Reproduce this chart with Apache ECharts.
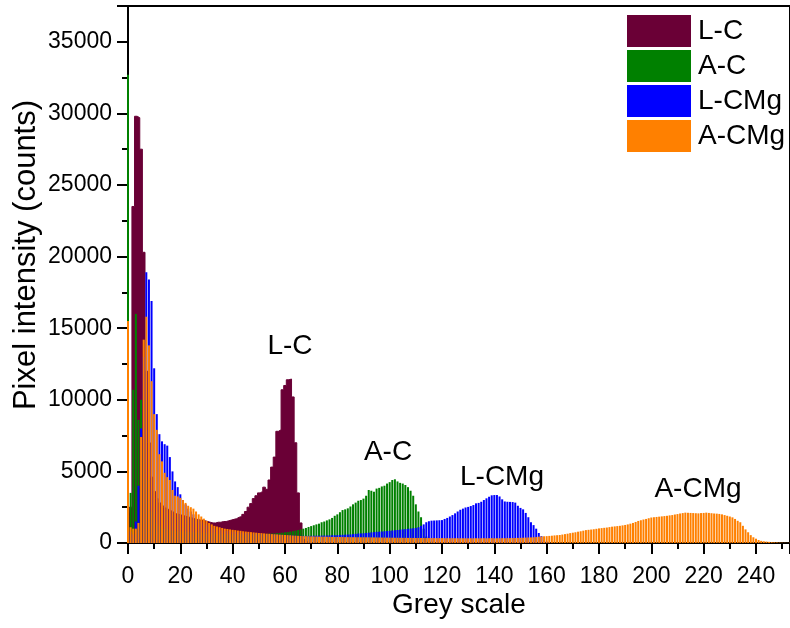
<!DOCTYPE html>
<html>
<head>
<meta charset="utf-8">
<title>Grey scale histogram</title>
<script src="https://cdn.jsdelivr.net/npm/echarts@6/dist/echarts.min.js"></script>
<style>html,body{margin:0;padding:0;background:#fff;}</style>
</head>
<body>
<div id="main" style="width:790px;height:628px;"></div>
<script>
// pixel counts per grey level (array index = grey level)
var lcCounts = [
  500, 2500, 23500, 29800, 29700, 27500, 20300, 12000, 7000, 4600,
  3600, 3100, 2800, 2600, 2450, 2350, 2250, 2150, 2050, 2000,
  1950, 1900, 1850, 1800, 1750, 1700, 1650, 1600, 1600, 1550,
  1500, 1450, 1400, 1400, 1450, 1450, 1500, 1500, 1550, 1600,
  1650, 1700, 1800, 1850, 2000, 2200, 2500, 2750, 3100, 3300,
  3500, 3600, 3900, 3750, 4400, 5300, 6000, 7800, 7900, 10700,
  11000, 11400, 11450, 10200, 7000, 3500, 1400, 250, 80, 20, 0
];
var acCounts = [
  32700, 3500, 10700, 16000, 8600, 10000, 6500, 4500, 3000, 2200,
  1700, 1400, 1200, 1100, 1000, 950, 900, 880, 860, 840,
  820, 800, 790, 780, 770, 760, 750, 740, 730, 720,
  710, 700, 690, 680, 670, 660, 650, 640, 630, 620,
  620, 610, 610, 600, 600, 600, 600, 600, 610, 610,
  620, 620, 630, 640, 650, 660, 670, 690, 700, 720,
  740, 760, 790, 820, 860, 900, 950, 1000, 1050, 1120,
  1180, 1240, 1300, 1350, 1450, 1500, 1580, 1650, 1750, 1900,
  2000, 2150, 2300, 2350, 2420, 2550, 2700, 2820, 2950, 3000,
  3100, 3300, 3700, 3650, 3580, 3800, 3850, 3950, 4000, 4150,
  4250, 4400, 4450, 4300, 4200, 4150, 4050, 3900, 3650, 3300,
  2700, 2200, 1800, 1000, 450, 200, 100, 50
];
var lcmgCounts = [
  6000, 800, 600, 1500, 4000, 8000, 13000, 18900, 18400, 16900,
  12200, 9000, 7600, 7100, 6900, 6800, 6000, 5000, 4300, 3900,
  3400, 3000, 2700, 2400, 2200, 2000, 1800, 1650, 1500, 1400,
  1300, 1200, 1100, 1000, 950, 900, 880, 860, 840, 820,
  800, 780, 760, 740, 720, 700, 690, 680, 670, 660,
  650, 640, 630, 620, 610, 600, 590, 580, 570, 560,
  550, 540, 530, 520, 510, 500, 500, 500, 500, 500,
  500, 505, 510, 510, 515, 520, 525, 530, 540, 545,
  550, 560, 570, 580, 590, 600, 620, 640, 660, 670,
  680, 700, 720, 740, 760, 780, 790, 800, 820, 840,
  850, 870, 890, 910, 930, 950, 970, 990, 1010, 1030,
  1050, 1100, 1200, 1300, 1450, 1520, 1560, 1570, 1580, 1590,
  1600, 1680, 1750, 1850, 1950, 2070, 2200, 2320, 2400, 2480,
  2520, 2580, 2650, 2770, 2800, 2880, 3000, 3120, 3230, 3330,
  3350, 3350, 3250, 3050, 2900, 2880, 2870, 2860, 2820, 2600,
  2450, 2350, 2100, 1800, 1450, 1250, 1000, 700, 480, 220,
  100, 40
];
var acmgCounts = [
  15500, 1100, 1000, 1000, 1400, 7400, 14200, 15800, 13800, 11300,
  9000, 7900, 6200, 5700, 4900, 4600, 4400, 3700, 3300, 3250,
  3150, 3000, 2800, 2600, 2500, 2400, 2200, 2000, 1850, 1700,
  1550, 1400, 1300, 1200, 1150, 1100, 1050, 1000, 980, 950,
  920, 900, 870, 850, 820, 800, 780, 760, 740, 720,
  700, 690, 670, 650, 640, 620, 610, 600, 580, 570,
  560, 550, 540, 520, 510, 500, 490, 480, 475, 470,
  460, 455, 450, 445, 440, 440, 435, 430, 425, 420,
  420, 418, 415, 412, 410, 408, 405, 405, 402, 400,
  400, 398, 395, 392, 390, 388, 385, 380, 378, 375,
  370, 368, 366, 364, 362, 360, 358, 356, 354, 352,
  350, 349, 348, 347, 346, 345, 344, 343, 342, 341,
  340, 339, 338, 337, 336, 335, 334, 333, 332, 331,
  328, 333, 330, 335, 329, 332, 336, 331, 334, 338,
  330, 332, 334, 336, 338, 340, 343, 346, 350, 355,
  360, 368, 376, 384, 392, 400, 415, 440, 455, 470,
  480, 495, 510, 530, 545, 560, 590, 620, 650, 690,
  720, 750, 790, 820, 860, 900, 920, 940, 960, 990,
  1020, 1040, 1060, 1080, 1110, 1140, 1160, 1180, 1200, 1230,
  1260, 1300, 1350, 1400, 1470, 1540, 1590, 1640, 1680, 1730,
  1780, 1800, 1820, 1840, 1860, 1880, 1900, 1930, 1950, 1990,
  2020, 2060, 2090, 2120, 2110, 2100, 2090, 2080, 2070, 2090,
  2100, 2120, 2100, 2080, 2060, 2050, 2030, 2000, 1950, 1900,
  1850, 1790, 1680, 1550, 1450, 1200, 950, 750, 550, 400,
  300, 210, 150, 120, 100, 80, 60, 50, 40, 30,
  20, 15, 10, 10, 5, 5
];

var seriesNames = ['L-C', 'A-C', 'L-CMg', 'A-CMg'];
var seriesCounts = [lcCounts, acCounts, lcmgCounts, acmgCounts];
var seriesColors = ['#6a0036', '#008000', '#0000ff', '#ff8000'];

var font = 'Liberation Sans, Arial, sans-serif';
var myChart = echarts.init(document.getElementById('main'));

// the plot runs past the right edge of the picture
var xMin = 0, xMax = 253;

// one x axis per series (only the first shown) so the bars overlap instead of being grouped
var xAxes = seriesNames.map(function (n, i) {
  return {
    type: 'value',
    min: xMin,
    max: xMax,
    interval: 20,
    show: i === 0,
    position: 'bottom',
    axisLine: { show: true, onZero: false, lineStyle: { color: '#000', width: 2 } },
    axisTick: { show: true, length: 11, lineStyle: { color: '#000', width: 2 } },
    minorTick: { show: true, splitNumber: 2, length: 6, lineStyle: { color: '#000', width: 2 } },
    splitLine: { show: false },
    axisLabel: {
      color: '#000', fontSize: 23, fontFamily: font, margin: 22,
      showMaxLabel: false,
      formatter: function (v) { return String(v); }
    }
  };
});

var series = seriesNames.map(function (name, i) {
  var data = seriesCounts[i].map(function (v, lv) { return [lv, v]; });
  if (i === 0) {
    // L-C looks like a solid block in the figure: a filled step outline, kept behind the bars
    return {
      name: name,
      type: 'line',
      xAxisIndex: i,
      z: 1,
      step: 'middle',
      symbol: 'none',
      color: seriesColors[i],
      lineStyle: { color: seriesColors[i], width: 1 },
      areaStyle: { color: seriesColors[i], opacity: 1 },
      data: data
    };
  }
  return {
    name: name,
    type: 'bar',
    xAxisIndex: i,
    z: 2,
    barWidth: 2,
    itemStyle: { color: seriesColors[i] },
    data: data
  };
});

var option = {
  animation: false,
  backgroundColor: '#fff',
  grid: {
    left: 128, right: 0, top: 6, bottom: 85,
    show: true, borderColor: '#000', borderWidth: 2, backgroundColor: 'transparent'
  },
  legend: {
    orient: 'vertical',
    left: 627, top: 15,
    padding: 0,
    itemWidth: 64, itemHeight: 32, itemGap: 3,
    icon: 'rect',
    itemStyle: { borderWidth: 0 },
    textStyle: { color: '#000', fontSize: 28, fontFamily: font, lineHeight: 32, padding: [0, 0, 0, 2] },
    data: seriesNames.map(function (n, i) {
      return { name: n, icon: 'rect', itemStyle: { color: seriesColors[i] } };
    })
  },
  xAxis: xAxes,
  yAxis: {
    type: 'value',
    min: 0, max: 37500, interval: 5000,
    axisLine: { show: true, lineStyle: { color: '#000', width: 2 } },
    axisTick: { show: true, length: 11, lineStyle: { color: '#000', width: 2 } },
    minorTick: { show: true, splitNumber: 2, length: 6, lineStyle: { color: '#000', width: 2 } },
    splitLine: { show: false },
    axisLabel: {
      color: '#000', fontSize: 23, fontFamily: font, margin: 16,
      showMaxLabel: false,
      formatter: function (v) { return String(v); }
    }
  },
  graphic: [
    { type: 'text', x: 26, y: 255, rotation: Math.PI / 2,
      style: { text: 'Pixel intensity (counts)', font: '31px ' + font, fill: '#000', textAlign: 'center', textVerticalAlign: 'middle' } },
    { type: 'text', x: 459, y: 605,
      style: { text: 'Grey scale', font: '28px ' + font, fill: '#000', textAlign: 'center', textVerticalAlign: 'middle' } },
    { type: 'text', x: 290, y: 346,
      style: { text: 'L-C', font: '28px ' + font, fill: '#000', textAlign: 'center', textVerticalAlign: 'middle' } },
    { type: 'text', x: 388, y: 452,
      style: { text: 'A-C', font: '28px ' + font, fill: '#000', textAlign: 'center', textVerticalAlign: 'middle' } },
    { type: 'text', x: 502, y: 477,
      style: { text: 'L-CMg', font: '28px ' + font, fill: '#000', textAlign: 'center', textVerticalAlign: 'middle' } },
    { type: 'text', x: 698, y: 489,
      style: { text: 'A-CMg', font: '28px ' + font, fill: '#000', textAlign: 'center', textVerticalAlign: 'middle' } }
  ],
  series: series
};
myChart.setOption(option);
</script>
</body>
</html>
